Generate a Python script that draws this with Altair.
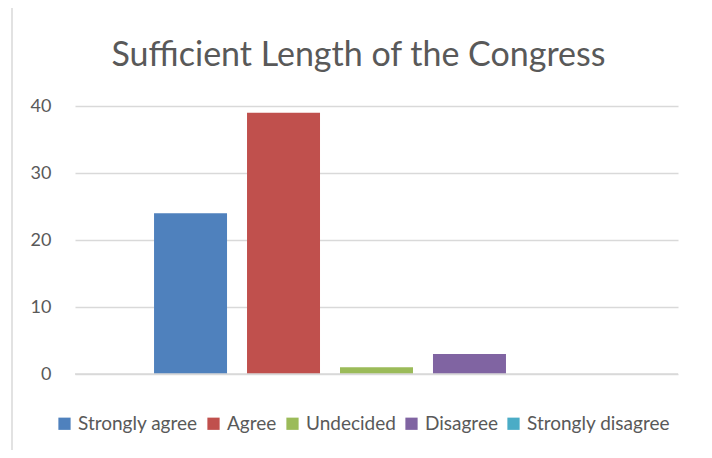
import altair as alt
import pandas as pd

responses = ["Strongly agree", "Agree", "Undecided", "Disagree", "Strongly disagree"]
counts = [24, 39, 1, 3, 0]
colors = ["#4F81BD", "#C0504D", "#9BBB59", "#8064A2", "#4BACC6"]
y_ticks = [0, 10, 20, 30, 40]
title = "Sufficient Length of the Congress"

df = pd.DataFrame({"Response": responses, "Count": counts})

FONT = "Lato"
TXT = "#595959"

bars = alt.Chart(df).mark_bar().encode(
    x=alt.X("Response:N", sort=responses, axis=None,
            scale=alt.Scale(paddingInner=0.215, paddingOuter=0.85)),
    y=alt.Y("Count:Q", scale=alt.Scale(domain=[0, 40], nice=False),
            axis=alt.Axis(values=y_ticks, title=None, domain=False, ticks=False,
                          labelFontSize=18, labelColor=TXT, labelFont=FONT,
                          labelPadding=24, gridColor="#D9D9D9", gridWidth=1.3)),
    color=alt.Color("Response:N", sort=responses,
                    scale=alt.Scale(domain=responses, range=colors),
                    legend=alt.Legend(orient="none", direction="horizontal", title=None,
                                      legendX=-20, legendY=308,
                                      symbolType="square", symbolSize=150,
                                      symbolStrokeWidth=0,
                                      labelFontSize=19, labelColor=TXT, labelFont=FONT,
                                      columnPadding=6, symbolOffset=0,
                                      labelOffset=4)),
)

baseline = alt.Chart(pd.DataFrame({"v": [0]})).mark_rule(color="#D9D9D9", strokeWidth=1.5).encode(
    y="v:Q"
)

border = alt.Chart(pd.DataFrame({"b": [0]})).mark_rect(
    fill=None, stroke="#D9D9D9", strokeWidth=1.5
).encode(
    x=alt.value(-63), x2=alt.value(632), y=alt.value(-99), y2=alt.value(356)
)

chart = alt.layer(border, bars, baseline).properties(
    width=603,
    height=268,
    title=alt.TitleParams(title, fontSize=34, font=FONT, color=TXT, fontWeight="normal",
                          anchor="middle", offset=0, dy=67, dx=-18),
    padding={"left": 67, "top": 98, "right": 26, "bottom": 76},
    autosize=alt.AutoSizeParams(type="none"),
).configure(background="white").configure_view(strokeWidth=0, stroke="transparent")

chart.save("out.html", embed_options={"renderer": "svg", "actions": False})
